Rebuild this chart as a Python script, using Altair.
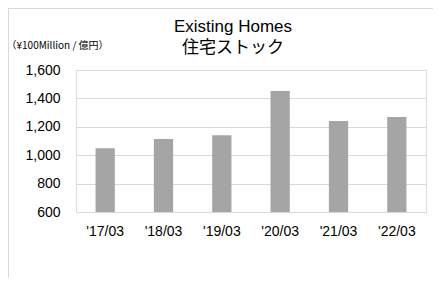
import altair as alt
import pandas as pd

periods = ["'17/03", "'18/03", "'19/03", "'20/03", "'21/03", "'22/03"]
values = [1049, 1114, 1140, 1452, 1241, 1269]
y_ticks = [600, 800, 1000, 1200, 1400, 1600]
y_min, y_max = 600, 1600

df = pd.DataFrame({"period": periods, "value": values})

bars = alt.Chart(df).mark_bar(color="#a5a5a5").encode(
    x=alt.X("period:N", sort=periods,
            scale=alt.Scale(paddingInner=0.67, paddingOuter=0.335),
            axis=alt.Axis(title=None, labelAngle=0, ticks=False, domain=True,
                          domainColor="#d9d9d9", labelPadding=12,
                          labelFont="Liberation Sans", labelFontSize=14,
                          labelColor="#000000")),
    y=alt.Y("value:Q",
            scale=alt.Scale(domain=[y_min, y_max], nice=False, zero=False),
            axis=alt.Axis(values=y_ticks, format=",d", ticks=False, domain=False,
                          grid=True, gridColor="#d9d9d9", labelPadding=16,
                          labelFont="Liberation Sans", labelFontSize=14,
                          labelColor="#000000",
                          title="（¥100Million / 億円）", titleAngle=0,
                          titleAlign="left", titleBaseline="middle",
                          titleX=-70, titleY=-25, titleFont="Noto Sans CJK JP",
                          titleFontSize=10, titleFontWeight="normal",
                          titleColor="#000000")),
    y2=alt.datum(y_min),
)

border = alt.Chart(alt.Data(values=[{}])).mark_rule(color="#d9d9d9", strokeWidth=1)
top_line = border.encode(x=alt.value(-68), x2=alt.value(400), y=alt.value(-61.5))
left_line = border.encode(x=alt.value(-67.5), y=alt.value(-61.5), y2=alt.value(300))

chart = alt.layer(top_line, left_line, bars).properties(
    width=350, height=142,
    title=alt.TitleParams(
        text="Existing Homes",
        subtitle="住宅ストック",
        anchor="middle", dx=-18, offset=-49,
        font="Liberation Sans", fontSize=17, fontWeight="normal", color="#000000",
        subtitleFont="Noto Sans CJK JP", subtitleFontSize=17,
        subtitleColor="#000000", subtitlePadding=4,
    ),
    autosize=alt.AutoSizeParams(type="none"),
    padding={"left": 68, "top": 62, "right": 7, "bottom": 66},
).configure_view(stroke=None).configure(background="#ffffff")

chart.save("out.html", embed_options={"renderer": "svg", "actions": False})
